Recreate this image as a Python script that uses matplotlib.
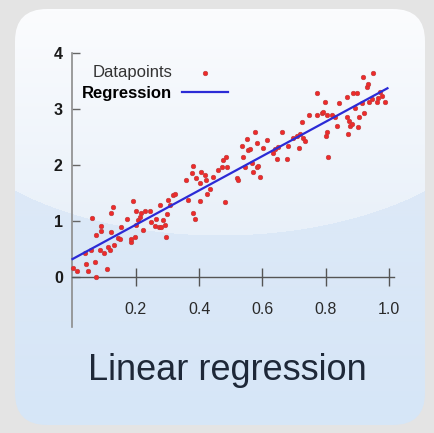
import matplotlib
matplotlib.use('Agg')
import matplotlib.pyplot as plt
from matplotlib.patches import FancyBboxPatch
import numpy as np

# scatter points
data_x = [0.002, 0.015, 0.044, 0.049, 0.075, 0.070, 0.108, 0.038, 0.060, 0.062,
          0.075, 0.086, 0.091, 0.089, 0.100, 0.112, 0.117, 0.123, 0.128, 0.123,
          0.131, 0.144, 0.149, 0.154, 0.173, 0.184, 0.186, 0.191, 0.196, 0.200,
          0.200, 0.207, 0.212, 0.217, 0.223, 0.228, 0.244, 0.249, 0.262, 0.265,
          0.272, 0.280, 0.286, 0.291, 0.296, 0.300, 0.302, 0.307, 0.318, 0.323,
          0.275, 0.360, 0.365, 0.380, 0.380, 0.386, 0.378, 0.391, 0.402, 0.407,
          0.418, 0.423, 0.426, 0.402, 0.434, 0.445, 0.461, 0.471, 0.476, 0.485,
          0.487, 0.482, 0.519, 0.524, 0.535, 0.540, 0.545, 0.552, 0.555, 0.561,
          0.566, 0.571, 0.577, 0.582, 0.587, 0.592, 0.582, 0.603, 0.616, 0.634,
          0.640, 0.645, 0.650, 0.661, 0.677, 0.682, 0.698, 0.708, 0.714, 0.719,
          0.727, 0.735, 0.724, 0.748, 0.773, 0.772, 0.787, 0.792, 0.798, 0.803,
          0.808, 0.801, 0.805, 0.819, 0.829, 0.835, 0.843, 0.866, 0.868, 0.871,
          0.875, 0.877, 0.882, 0.887, 0.893, 0.898, 0.903, 0.906, 0.914, 0.919,
          0.921, 0.930, 0.935, 0.938, 0.945, 0.950, 0.961, 0.966, 0.977, 0.987,
          0.972]
data_y = [0.155, 0.10, 0.24, 0.10, 0.005, 0.27, 0.14, 0.42, 0.49, 1.05,
          0.75, 0.48, 0.91, 0.82, 0.42, 0.54, 0.48, 0.81, 1.245, 1.15,
          0.57, 0.69, 0.67, 0.89, 1.03, 0.63, 0.67, 1.36, 0.72, 0.93,
          1.18, 1.02, 1.08, 1.15, 0.84, 1.17, 1.18, 0.99, 0.91, 1.03,
          0.89, 0.90, 1.02, 0.93, 0.71, 1.125, 1.375, 1.29, 1.46, 1.48,
          1.29, 1.73, 1.375, 1.98, 1.14, 1.03, 1.86, 1.76, 1.36, 1.88,
          1.82, 1.73, 1.48, 1.67, 1.58, 1.79, 1.91, 1.97, 2.09, 2.14,
          1.96, 1.345, 1.76, 1.73, 2.34, 2.15, 1.97, 2.46, 2.27, 2.28,
          2.03, 1.88, 2.59, 1.97, 1.98, 1.79, 2.39, 2.30, 2.45, 2.21,
          2.28, 2.10, 2.33, 2.59, 2.10, 2.34, 2.48, 2.52, 2.30, 2.55,
          2.49, 2.43, 2.77, 2.89, 3.28, 2.89, 2.92, 2.95, 3.13, 2.89,
          2.15, 2.52, 2.59, 2.89, 2.86, 2.70, 3.11, 2.85, 3.21, 2.55,
          2.79, 2.70, 2.74, 3.28, 3.01, 3.29, 2.68, 2.85, 3.10, 3.58,
          2.93, 3.40, 3.45, 3.13, 3.17, 3.65, 3.13, 3.19, 3.23, 3.13,
          3.31]

# regression line ends
fit_x = [0.0, 0.995]
fit_y = [0.32, 3.37]

x_ticks = [0.2, 0.4, 0.6, 0.8, 1.0]
x_labels = ['0.2', '0.4', '0.6', '0.8', '1.0']
y_ticks = [0, 1, 2, 3, 4]
y_labels = ['0', '1', '2', '3', '4']

W, H = 435, 433
fig = plt.figure(figsize=(W / 100, H / 100), dpi=100)
fig.patch.set_facecolor('#e4e4e4')

# background: rounded panel with a soft gloss
bg = fig.add_axes([0, 0, 1, 1])
bg.set_xlim(0, W)
bg.set_ylim(H, 0)
bg.axis('off')
yy, xx = np.mgrid[0:H, 0:W]
lower_top = np.array([0xdd, 0xe9, 0xf7]) / 255
lower_bot = np.array([0xd6, 0xe6, 0xf7]) / 255
upper_top = np.array([0xfb, 0xfc, 0xfe]) / 255
upper_bot = np.array([0xe8, 0xf0, 0xf9]) / 255
t_low = np.clip((yy - 180) / 245, 0, 1)[..., None]
t_up = np.clip((yy - 10) / 230, 0, 1)[..., None]
img_low = lower_top * (1 - t_low) + lower_bot * t_low
img_up = upper_top * (1 - t_up) + upper_bot * t_up
gloss = ((xx - 220) / 300.0) ** 2 + ((yy - 70) / 165.0) ** 2 < 1
img = np.where(gloss[..., None], img_up, img_low)
panel = FancyBboxPatch((15, 9), 410, 416, boxstyle='round,pad=0,rounding_size=32',
                       transform=bg.transData, facecolor='none', edgecolor='none')
bg.add_patch(panel)
im = bg.imshow(img, extent=(0, W, H, 0), interpolation='bilinear')
im.set_clip_path(panel)

ax = fig.add_axes([0.123, 0.231, 0.815, 0.6725])
ax.patch.set_alpha(0)
ax.set_xlim(-0.06, 1.06)
ax.set_ylim(-1.0, 4.2)

sc = ax.scatter(data_x, data_y, s=11, color='#ee2a2a', edgecolors='#b83a3a',
                linewidths=0.4, zorder=3, label='Datapoints')
ln, = ax.plot(fit_x, fit_y, color='#2b2bd6', lw=1.6, zorder=4, label='Regression')

for s in ['top', 'right']:
    ax.spines[s].set_visible(False)
ax.spines['left'].set_position(('data', 0))
ax.spines['left'].set_bounds(-0.9, 4.0)
ax.spines['left'].set_color('#8c8c8c')
ax.spines['left'].set_linewidth(1.2)
ax.spines['bottom'].set_position(('data', 0))
ax.spines['bottom'].set_bounds(0, 1.015)
ax.spines['bottom'].set_color('#555555')
ax.spines['bottom'].set_linewidth(1.0)

ax.set_xticks(x_ticks)
ax.set_xticklabels(x_labels, family='Liberation Sans', fontsize=11.5, color='#2a2a2a')
ax.set_yticks(y_ticks)
ax.set_yticklabels(y_labels, family='Liberation Sans', fontsize=11.5,
                   fontweight='bold', color='#1a1a1a')
ax.tick_params(axis='x', direction='inout', length=13.5, width=1.0, color='#555555', pad=11)
ax.tick_params(axis='y', direction='in', length=5.5, width=1.0, color='#666666', pad=7)

leg = ax.legend(handles=[sc, ln], markerfirst=False, frameon=False, loc='upper left',
                bbox_to_anchor=(0.030, 3.78), bbox_transform=ax.transData,
                borderpad=0, borderaxespad=0, handlelength=2.75, handletextpad=0.6,
                labelspacing=0.35, scatterpoints=1,
                prop={'family': 'Liberation Sans', 'size': 12})
leg.get_texts()[0].set_color('#333333')
leg.get_texts()[1].set_fontweight('bold')
leg.get_texts()[1].set_color('#000000')

fig.text(227 / W, 1 - 380 / H, 'Linear regression', family='Liberation Sans',
         fontsize=26, color='#1e2838', ha='center', va='baseline')

fig.savefig('out.png', dpi=100, facecolor=fig.get_facecolor())
